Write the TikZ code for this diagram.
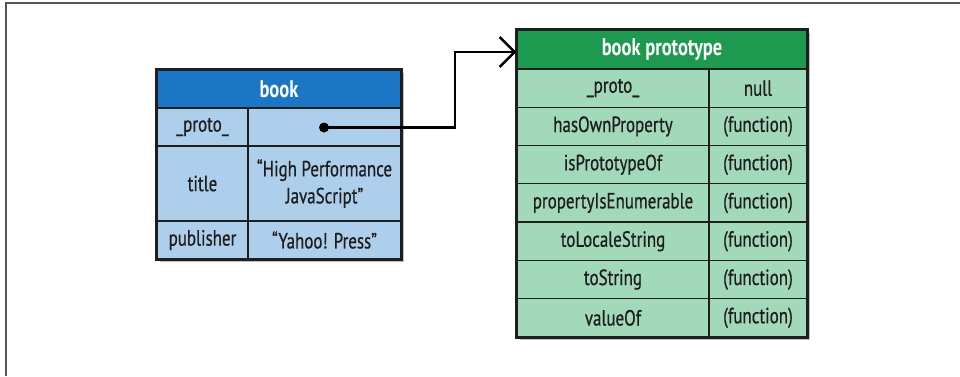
\documentclass[tikz,border=0pt]{standalone}
\usepackage{fontspec}
\setmainfont{PT Sans}[FakeStretch=0.77, UprightFeatures={FakeBold=0.6}]
\usetikzlibrary{arrows.meta}
\definecolor{bluehead}{HTML}{1B77C5}
\definecolor{bluebody}{HTML}{AECFEC}
\definecolor{greenhead}{HTML}{1E9A50}
\definecolor{greenbody}{HTML}{A2D9BB}
\definecolor{framegray}{HTML}{555555}
\definecolor{inkc}{HTML}{1E1E1E}
\tikzset{
  cell/.style={draw=inkc, line width=1.3pt, inner sep=0pt, align=center,
    text=inkc, font=\fontsize{22}{27}\selectfont},
  headcell/.style={cell, text=white, font=\fontsize{24}{28}\selectfont\bfseries},
  bluecell/.style={cell, fill=bluebody},
  greencell/.style={cell, fill=greenbody},
  outline/.style={draw=inkc, line width=2.4pt},
  shadowbox/.style={fill=black!45, opacity=0.55},
  link/.style={draw=black, line width=2.4pt, -{Straight Barb[length=15pt, width=30pt, line width=2.4pt]}}
}
\begin{document}
\begin{tikzpicture}[x=1pt, y=-1pt]
\useasboundingbox (0,0) rectangle (960,376);
% frame
\draw[framegray, line width=2pt] (5.5,376) -- (5.5,2.5) -- (960,2.5);

% shadows
\fill[shadowbox] (160,73) rectangle (404,262);
\fill[shadowbox] (520,33) rectangle (810,340);

% book table
\node[headcell, fill=bluehead, minimum width=244pt, minimum height=38pt] (bh) at (279,89) {book};
\node[bluecell, minimum width=91pt, minimum height=38pt] (bk1) at (202.5,127) {\_proto\_};
\node[bluecell, minimum width=153pt, minimum height=38pt] (bv1) at (324.5,127) {};
\node[bluecell, minimum width=91pt, minimum height=75pt] (bk2) at (202.5,183.5) {title};
\node[bluecell, minimum width=153pt, minimum height=75pt] (bv2) at (324.5,183.5) {“High Performance\\JavaScript”};
\node[bluecell, minimum width=91pt, minimum height=38pt] (bk3) at (202.5,240) {publisher};
\node[bluecell, minimum width=153pt, minimum height=38pt] (bv3) at (324.5,240) {“Yahoo! Press”};
\draw[outline] (bh.north west) rectangle (bv3.south east);

% book prototype table
\node[headcell, fill=greenhead, minimum width=290pt, minimum height=39pt] (ph) at (662,49.5) {book prototype};
\foreach \i/\k/\v in {0/\_proto\_/null, 1/hasOwnProperty/(function), 2/isPrototypeOf/(function),
  3/propertyIsEnumerable/(function), 4/toLocaleString/(function), 5/toString/(function), 6/valueOf/(function)} {
  \node[greencell, minimum width=192pt, minimum height=38.28pt] (pk\i) at (613,{88.14+\i*38.28}) {\k};
  \node[greencell, minimum width=98pt, minimum height=38.28pt] (pv\i) at (758,{88.14+\i*38.28}) {\v};
}
\draw[outline] (ph.north west) rectangle (pv6.south east);

% pointer
\node[circle, fill=black, minimum size=10pt, inner sep=0pt] (dot) at (324,127.5) {};
\draw[link] (dot.center) -- ++(131,0) |- ([yshift=-2.5pt]ph.west);
\end{tikzpicture}
\end{document}
